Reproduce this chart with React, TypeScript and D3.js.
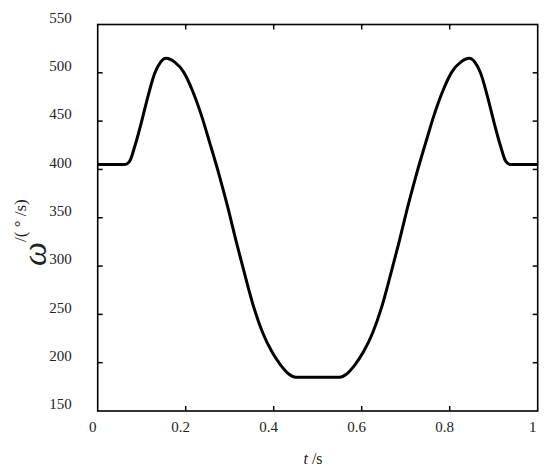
// App.tsx
import React, { useRef, useEffect } from "react";
import * as d3 from "d3";

const WIDTH = 550;
const HEIGHT = 475;
const MARGIN = { top: 24.5, right: 12.3, bottom: 64, left: 97.7 };

// time (s)
const timeValues = [
  0, 0.062, 0.072, 0.085, 0.1, 0.115, 0.13, 0.143, 0.155, 0.175, 0.195,
  0.215, 0.235, 0.255, 0.275, 0.295, 0.315, 0.335, 0.355, 0.375, 0.395,
  0.415, 0.435, 0.45, 0.55, 0.565, 0.585, 0.605, 0.625, 0.645, 0.665, 0.685,
  0.705, 0.725, 0.745, 0.765, 0.785, 0.805, 0.825, 0.845, 0.857, 0.87, 0.885,
  0.9, 0.915, 0.928, 0.938, 1,
];
// angular velocity (deg/s)
const omegaValues = [
  405, 405, 408, 425, 450, 477, 500, 511, 515, 511, 501, 482, 457, 427, 396,
  362, 325, 290, 257, 231, 212, 198, 188, 185, 185, 188, 198, 212, 231, 257,
  290, 325, 362, 396, 427, 457, 482, 501, 511, 515, 511, 500, 477, 450, 425,
  408, 405, 405,
];

const xTicks = [0, 0.2, 0.4, 0.6, 0.8, 1];
const xTickLabels = ["0", "0.2", "0.4", "0.6", "0.8", "1"];
const yTicks = [150, 200, 250, 300, 350, 400, 450, 500, 550];

export default function App() {
  const svgRef = useRef<SVGSVGElement>(null);

  useEffect(() => {
    const innerW = WIDTH - MARGIN.left - MARGIN.right;
    const innerH = HEIGHT - MARGIN.top - MARGIN.bottom;
    const font = "'Liberation Serif', 'Times New Roman', serif";

    const x = d3.scaleLinear().domain([0, 1]).range([0, innerW]);
    const y = d3.scaleLinear().domain([150, 550]).range([innerH, 0]);

    const svg = d3.select(svgRef.current);
    svg.selectAll("*").remove();

    const g = svg
      .append("g")
      .attr("transform", `translate(${MARGIN.left},${MARGIN.top})`);

    const data = timeValues.map((t, i) => ({ t, w: omegaValues[i] }));

    const line = d3
      .line<{ t: number; w: number }>()
      .x((d) => x(d.t))
      .y((d) => y(d.w))
      .curve(d3.curveMonotoneX);

    g.append("path")
      .datum(data)
      .attr("d", line)
      .attr("fill", "none")
      .attr("stroke", "#000")
      .attr("stroke-width", 3)
      .attr("stroke-linejoin", "round");

    // frame
    g.append("rect")
      .attr("width", innerW)
      .attr("height", innerH)
      .attr("fill", "none")
      .attr("stroke", "#000")
      .attr("stroke-width", 1.6);

    const tickLen = 5;
    const innerX = xTicks.slice(1, -1);
    const innerY = yTicks.slice(1, -1);

    // ticks, all pointing inward
    innerX.forEach((t) => {
      g.append("line")
        .attr("x1", x(t)).attr("x2", x(t))
        .attr("y1", innerH).attr("y2", innerH - tickLen)
        .attr("stroke", "#000").attr("stroke-width", 1.5);
      g.append("line")
        .attr("x1", x(t)).attr("x2", x(t))
        .attr("y1", 0).attr("y2", tickLen)
        .attr("stroke", "#000").attr("stroke-width", 1.5);
    });
    innerY.forEach((v) => {
      g.append("line")
        .attr("x1", 0).attr("x2", tickLen)
        .attr("y1", y(v)).attr("y2", y(v))
        .attr("stroke", "#000").attr("stroke-width", 1.5);
      g.append("line")
        .attr("x1", innerW).attr("x2", innerW - tickLen)
        .attr("y1", y(v)).attr("y2", y(v))
        .attr("stroke", "#000").attr("stroke-width", 1.5);
    });

    // tick labels
    g.selectAll("text.xtick")
      .data(xTicks)
      .join("text")
      .attr("class", "xtick")
      .attr("x", (d) => x(d) - 5)
      .attr("y", innerH + 16)
      .attr("dy", "0.35em")
      .attr("text-anchor", "middle")
      .attr("font-family", font)
      .attr("font-size", 15)
      .attr("fill", "#222")
      .text((_, i) => xTickLabels[i]);

    g.selectAll("text.ytick")
      .data(yTicks)
      .join("text")
      .attr("class", "ytick")
      .attr("x", -26)
      .attr("y", (d) => y(d) - 7)
      .attr("dy", "0.35em")
      .attr("text-anchor", "end")
      .attr("font-family", font)
      .attr("font-size", 15)
      .attr("fill", "#222")
      .text((d) => d);

    // x axis title
    const xt = svg
      .append("text")
      .attr("x", 313)
      .attr("y", 464)
      .attr("text-anchor", "middle")
      .attr("font-family", font)
      .attr("font-size", 16)
      .attr("fill", "#222");
    xt.append("tspan").attr("font-style", "italic").text("t");
    xt.append("tspan").text(" /s");

    // y axis title
    const yt = svg
      .append("text")
      .attr("transform", "translate(46,266) rotate(-90)")
      .attr("font-family", font)
      .attr("fill", "#222");
    yt.append("tspan")
      .attr("font-size", 34)
      .attr("font-style", "italic")
      .text("ω");
    yt.append("tspan")
      .attr("font-size", 17)
      .attr("dy", -20)
      .text("/( ° /s)");
  }, []);

  return (
    <svg
      ref={svgRef}
      width={WIDTH}
      height={HEIGHT}
      style={{ position: "absolute", left: 0, top: 0, background: "#fff" }}
    />
  );
}
